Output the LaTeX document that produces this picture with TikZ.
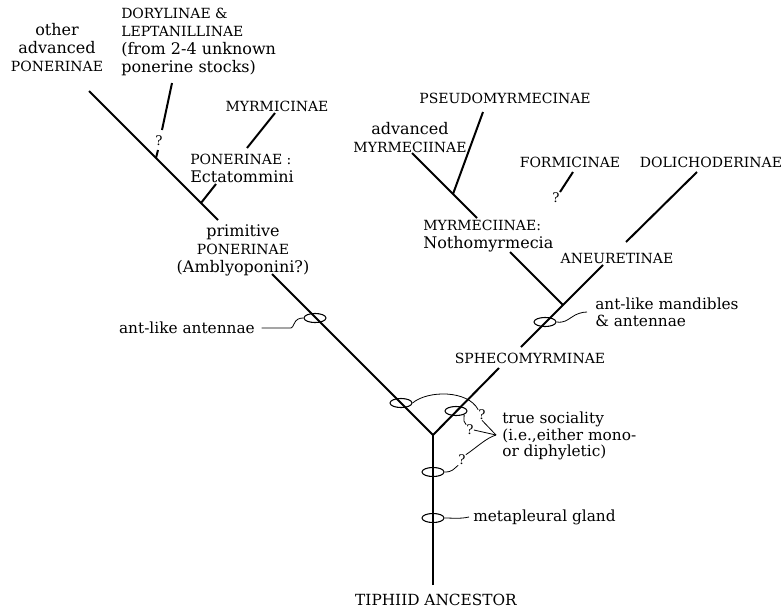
\documentclass[tikz,border=0pt]{standalone}
\usepackage{fontspec}
\setmainfont{DejaVu Serif}
\usetikzlibrary{shapes.geometric}
\newcommand\lowtext[1]{{\fontsize{12}{13.5}\selectfont #1}}
\begin{document}
\begin{tikzpicture}
            [x=0.75pt, y=-0.75pt,
            branch/.style={line width=1.5pt, black},
            lead/.style={line width=0.6pt, black},
            ring/.style={ellipse, draw, line width=0.8pt, minimum width=16.5pt, minimum height=6.8pt, inner sep=0pt},
            taxon/.style={font=\fontsize{10.5}{13.5}\selectfont, inner sep=0pt},
            trait/.style={font=\fontsize{11.5}{12.5}\selectfont, inner sep=0pt},
            query/.style={font=\fontsize{10}{11}\selectfont, inner sep=0pt}]

            \useasboundingbox (0,0) rectangle (782,611);

            % Branch points
            \coordinate (root) at (433,585);
            \coordinate (fork) at (433,435);
            \coordinate (primB) at (272,274);
            \coordinate (primT) at (218,220);
            \coordinate (ectB) at (201,203);
            \coordinate (ectT) at (216,184);
            \coordinate (myrB) at (247,148);
            \coordinate (myrT) at (275,113);
            \coordinate (dorB) at (156,158);
            \coordinate (dorM) at (158,150);
            \coordinate (dorL) at (162,130);
            \coordinate (dorT) at (172,83);
            \coordinate (othT) at (89,91);
            \coordinate (sphB) at (499,368);
            \coordinate (sphT) at (521,347);
            \coordinate (nothB) at (563,305);
            \coordinate (nothT) at (510,252);
            \coordinate (aneB) at (603,265);
            \coordinate (aneT) at (626,242);
            \coordinate (dolT) at (697,172);
            \coordinate (advB) at (477,218);
            \coordinate (advM) at (453,194);
            \coordinate (advT) at (412,153);
            \coordinate (psT) at (483,112);
            \coordinate (forT) at (573,172);
            \coordinate (forB) at (560,192);
            \coordinate (sj) at (496,435);

            % Taxa
            \node[taxon, align=center] (other) at (57,48) {\lowtext{other}\\\lowtext{advanced}\\PONERINAE};
            \node[taxon, align=left, anchor=west] (dory) at (121,42) {DORYLINAE \&\\LEPTANILLINAE\\\lowtext{(from 2-4 unknown}\\\lowtext{ponerine stocks)}};
            \node[taxon] (myrm) at (277,106) {MYRMICINAE};
            \node[taxon, align=left, anchor=west] (ecta) at (190,168) {PONERINAE :\\\lowtext{Ectatommini}};
            \node[taxon, align=center] (prim) at (243,250) {\lowtext{primitive}\\PONERINAE\\\lowtext{(Amblyoponini?)}};
            \node[taxon] (pseudo) at (505,98) {PSEUDOMYRMECINAE};
            \node[taxon, align=center] (advmyr) at (410,138) {\lowtext{advanced}\\MYRMECIINAE};
            \node[taxon, align=left, anchor=west] (noth) at (423,236) {MYRMECIINAE:\\\lowtext{Nothomyrmecia}};
            \node[taxon] (formic) at (570,162) {FORMICINAE};
            \node[taxon] (dolich) at (711,162) {DOLICHODERINAE};
            \node[taxon] (aneur) at (617,258) {ANEURETINAE};
            \node[taxon] (spheco) at (530,358) {SPHECOMYRMINAE};
            \node[taxon, font=\fontsize{11.5}{13.5}\selectfont] (anc) at (436,600) {TIPHIID ANCESTOR};

            % Characters
            \node[trait, anchor=east] (antenn) at (255,328) {ant-like antennae};
            \node[trait, align=left, anchor=west] (mand) at (595,312) {ant-like mandibles\\\& antennae};
            \node[trait, align=left, anchor=west] (social) at (502,436) {true sociality\\(i.e.,either mono-\\or diphyletic)};
            \node[trait, anchor=west] (meta) at (473,517) {metapleural gland};

            % Question marks
            \node[query] (q1) at (159,141) {?};
            \node[query] (q2) at (556,198) {?};
            \node[query] (q3) at (482,415) {?};
            \node[query] (q4) at (470,430) {?};
            \node[query] (q5) at (462,460) {?};

            % Tree
            \draw[branch, line width=1.9pt] (root) -- (fork);
            \draw[branch] (fork) -- (primB);
            \draw[branch] (primT) -- (othT);
            \draw[branch] (ectB) -- (ectT);
            \draw[branch] (myrB) -- (myrT);
            \draw[branch] (dorB) -- (dorM);
            \draw[branch] (dorL) -- (dorT);
            \draw[branch] (fork) -- (sphB);
            \draw[branch] (sphT) -- (aneB);
            \draw[branch] (aneT) -- (dolT);
            \draw[branch] (nothB) -- (nothT);
            \draw[branch] (advB) -- (advT);
            \draw[branch] (advM) -- (psT);
            \draw[branch] (forT) -- (forB);

            % Rings on the branches
            \node[ring] (r1) at (315,318) {};
            \node[ring] (r2) at (545,322) {};
            \node[ring] (r3) at (401,403) {};
            \node[ring] (r4) at (456,411) {};
            \node[ring] (r5) at (433,472) {};
            \node[ring] (r6) at (433,518) {};

            % Leaders
            \draw[lead] ([xshift=5pt]antenn.east) -- ++(22,0) .. controls +(8,0) and +(-2,5) .. (294,324) .. controls +(2,-5) and +(-4,0) .. (r1.west);
            \draw[lead] (r2.east) .. controls +(8,1) and +(-5,3) .. (572,317) .. controls +(4,-3) and +(-5,0) .. ([xshift=-6pt]mand.west);
            \draw[lead] (r6.east) .. controls +(9,0) and +(-9,2) .. ([xshift=-3pt]meta.west);
            \draw[lead] (r3.east) .. controls (428,390) and (468,390) .. (q3.north west);
            \draw[lead] (q3.south) -- (sj);
            \draw[lead] (r4.south east) .. controls +(0,6) and +(-3,-2) .. (q4.north west);
            \draw[lead] (q4.east) -- (sj);
            \draw[lead] (r5.east) .. controls +(8,0) and +(-5,4) .. (q5.south west);
            \draw[lead] (q5.north east) .. controls (476,448) and (486,438) .. (sj);

        \end{tikzpicture}
\end{document}
